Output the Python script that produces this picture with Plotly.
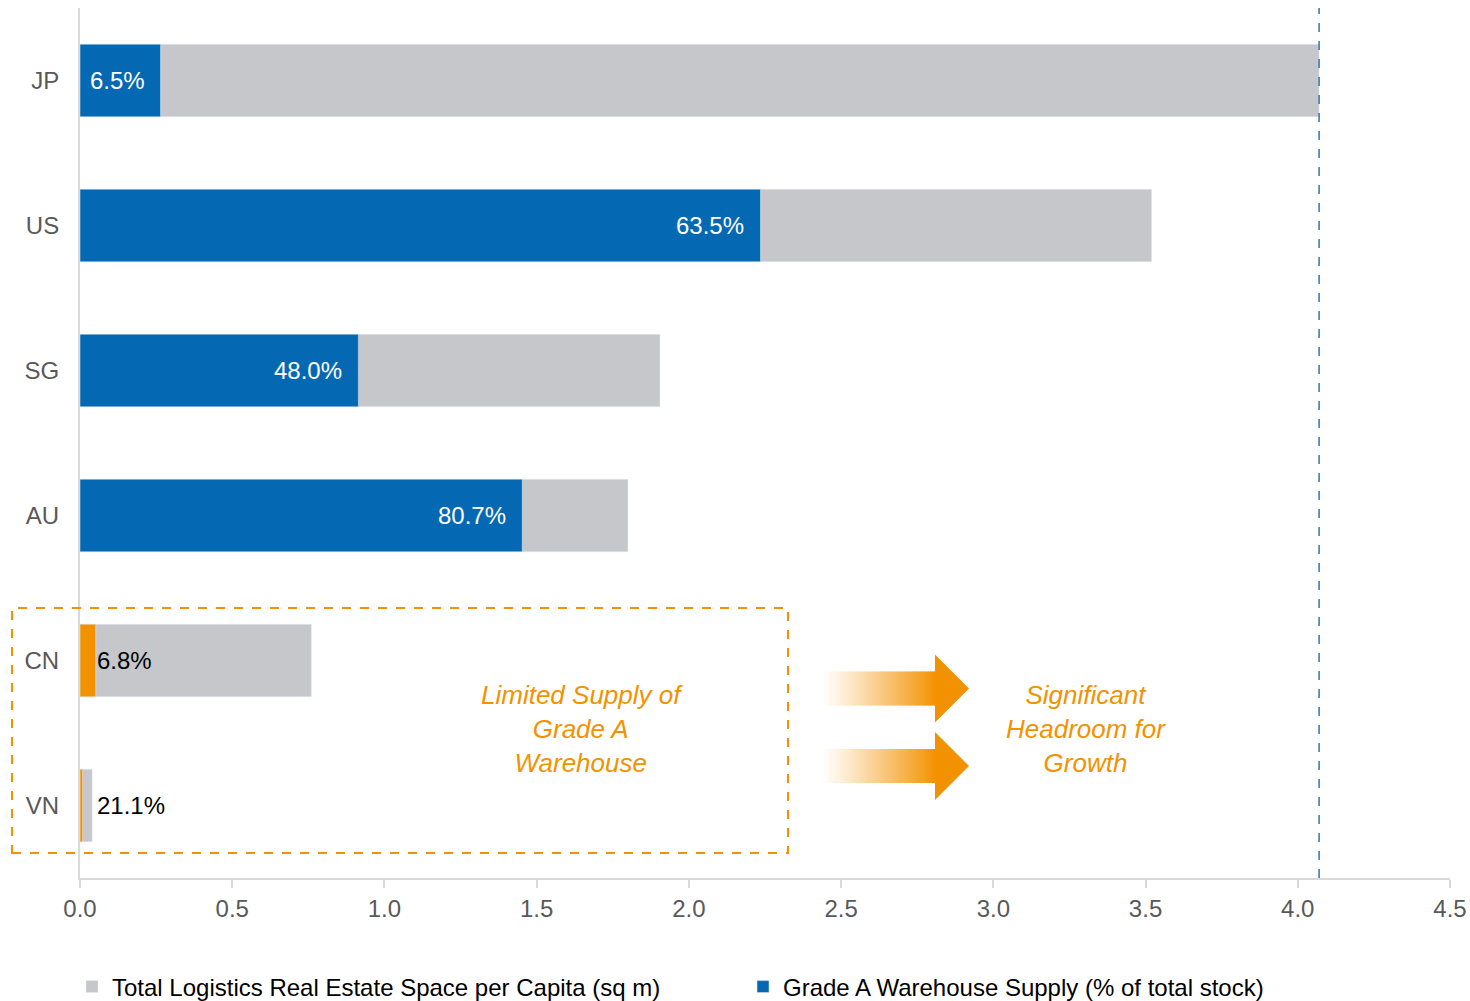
import plotly.graph_objects as go

# ---- data ----
countries = ["JP", "US", "SG", "AU", "CN", "VN"]
total_space = [4.07, 3.52, 1.905, 1.80, 0.76, 0.04]          # sq m per capita
grade_a_pct = [6.5, 63.5, 48.0, 80.7, 6.8, 21.1]             # % of total stock
highlight = ["CN", "VN"]                                      # limited supply group
x_ticks = [0.0, 0.5, 1.0, 1.5, 2.0, 2.5, 3.0, 3.5, 4.0, 4.5]

GREY = "#C6C7CB"
BLUE = "#0568B3"
ORANGE = "#F39200"
FONT = "Liberation Sans, Arial, sans-serif"

grade_a_val = [t * p / 100 for t, p in zip(total_space, grade_a_pct)]

# plot area in pixels (for decorations)
W, H = 1470, 1001
L, R, T, B = 80, 20, 8, 123
PW, PH = W - L - R, H - T - B


def px(x):
    return (x - L) / PW


def py(y):
    return (H - B - y) / PH


fig = go.Figure()
fig.add_trace(go.Bar(
    y=countries, x=total_space, orientation="h", marker_color=GREY,
    name="Total Logistics Real Estate Space per Capita (sq m)",
))
blue_y = [c for c in countries if c not in highlight]
blue_x = [v for c, v in zip(countries, grade_a_val) if c not in highlight]
fig.add_trace(go.Bar(
    y=blue_y, x=blue_x, orientation="h", marker_color=BLUE,
    name="Grade A Warehouse Supply (% of total stock)",
))
or_y = [c for c in countries if c in highlight]
or_x = [v for c, v in zip(countries, grade_a_val) if c in highlight]
fig.add_trace(go.Bar(
    y=or_y, x=or_x, orientation="h", marker_color=ORANGE, showlegend=False,
))

annotations = []
for c, v, p in zip(countries, grade_a_val, grade_a_pct):
    if c in highlight:
        annotations.append(dict(x=0.05, y=c, xref="x", yref="y", text=f"{p:.1f}%",
                                showarrow=False, xanchor="left", yanchor="middle",
                                font=dict(family=FONT, size=24, color="#000000")))
    else:
        annotations.append(dict(x=v, y=c, xref="x", yref="y", text=f"{p:.1f}%",
                                showarrow=False, xanchor="right", yanchor="middle", xshift=-14,
                                font=dict(family=FONT, size=24, color="#FFFFFF")))

annotations.append(dict(x=px(582), y=py(729), xref="paper", yref="paper",
                        xanchor="center", yanchor="middle",
                        text="Limited Supply of<br>Grade A<br>Warehouse", showarrow=False,
                        font=dict(family=FONT, size=26, color=ORANGE, style="italic")))
annotations.append(dict(x=px(1086), y=py(729), xref="paper", yref="paper",
                        xanchor="center", yanchor="middle",
                        text="Significant<br>Headroom for<br>Growth", showarrow=False,
                        font=dict(family=FONT, size=26, color=ORANGE, style="italic")))

shapes = []
# dashed box around limited supply group
shapes.append(dict(type="rect", xref="paper", yref="paper",
                   x0=px(12), x1=px(788), y0=py(853), y1=py(608),
                   line=dict(color=ORANGE, width=2, dash="dash"), fillcolor="rgba(0,0,0,0)"))
# JP reference line
shapes.append(dict(type="line", xref="x", yref="paper", x0=total_space[0], x1=total_space[0],
                   y0=0, y1=1, line=dict(color="#2E75B6", width=1.5, dash="dash")))

# gradient arrows (blended with white, opaque slices)
o_rgb = (243, 146, 0)
for cy in (688.5, 766):
    x_start, x_body_end, x_tip = 822, 936, 969
    n = 57
    step = (x_body_end - x_start) / n
    for i in range(n):
        a = ((i + 0.5) / n) ** 1.1
        col = tuple(round(255 * (1 - a) + c * a) for c in o_rgb)
        shapes.append(dict(type="rect", xref="paper", yref="paper",
                           x0=px(x_start + i * step), x1=px(x_start + (i + 1) * step + 0.8),
                           y0=py(cy + 17), y1=py(cy - 17),
                           fillcolor=f"rgb{col}", line=dict(width=0)))
    path = (f"M {px(x_body_end - 1)},{py(cy - 34)} L {px(x_tip)},{py(cy)} "
            f"L {px(x_body_end - 1)},{py(cy + 34)} Z")
    shapes.append(dict(type="path", xref="paper", yref="paper", path=path,
                       fillcolor=ORANGE, line=dict(width=0)))

fig.update_layout(
    width=W, height=H,
    margin=dict(l=L, r=R, t=T, b=B, autoexpand=False),
    barmode="overlay", bargap=0.5,
    plot_bgcolor="white", paper_bgcolor="white",
    font=dict(family=FONT, size=24, color="#595959"),
    showlegend=True,
    legend=dict(orientation="h", x=px(72), y=py(987), xanchor="left", yanchor="middle",
                font=dict(family=FONT, size=24, color="#000000"),
                entrywidth=626, entrywidthmode="pixels", traceorder="normal"),
    annotations=annotations,
    shapes=shapes,
)
fig.update_xaxes(range=[0, 4.5], tickvals=x_ticks, tickformat=".1f", automargin=False,
                 showgrid=False, zeroline=False, showline=True, linecolor="#D9D9D9", linewidth=2,
                 ticks="outside", ticklen=8, tickcolor="#D9D9D9", tickwidth=2,
                 tickfont=dict(family=FONT, size=24, color="#595959"), ticklabelstandoff=0)
fig.update_yaxes(categoryorder="array", categoryarray=countries, autorange="reversed",
                 automargin=False,
                 showgrid=False, zeroline=False, showline=True, linecolor="#D9D9D9", linewidth=2,
                 ticks="", tickfont=dict(family=FONT, size=24, color="#595959"),
                 ticklabelstandoff=14)

fig.write_html("out.html", config={"displayModeBar": False},
               post_script="document.body.style.margin='0';document.body.style.overflow='hidden';")
